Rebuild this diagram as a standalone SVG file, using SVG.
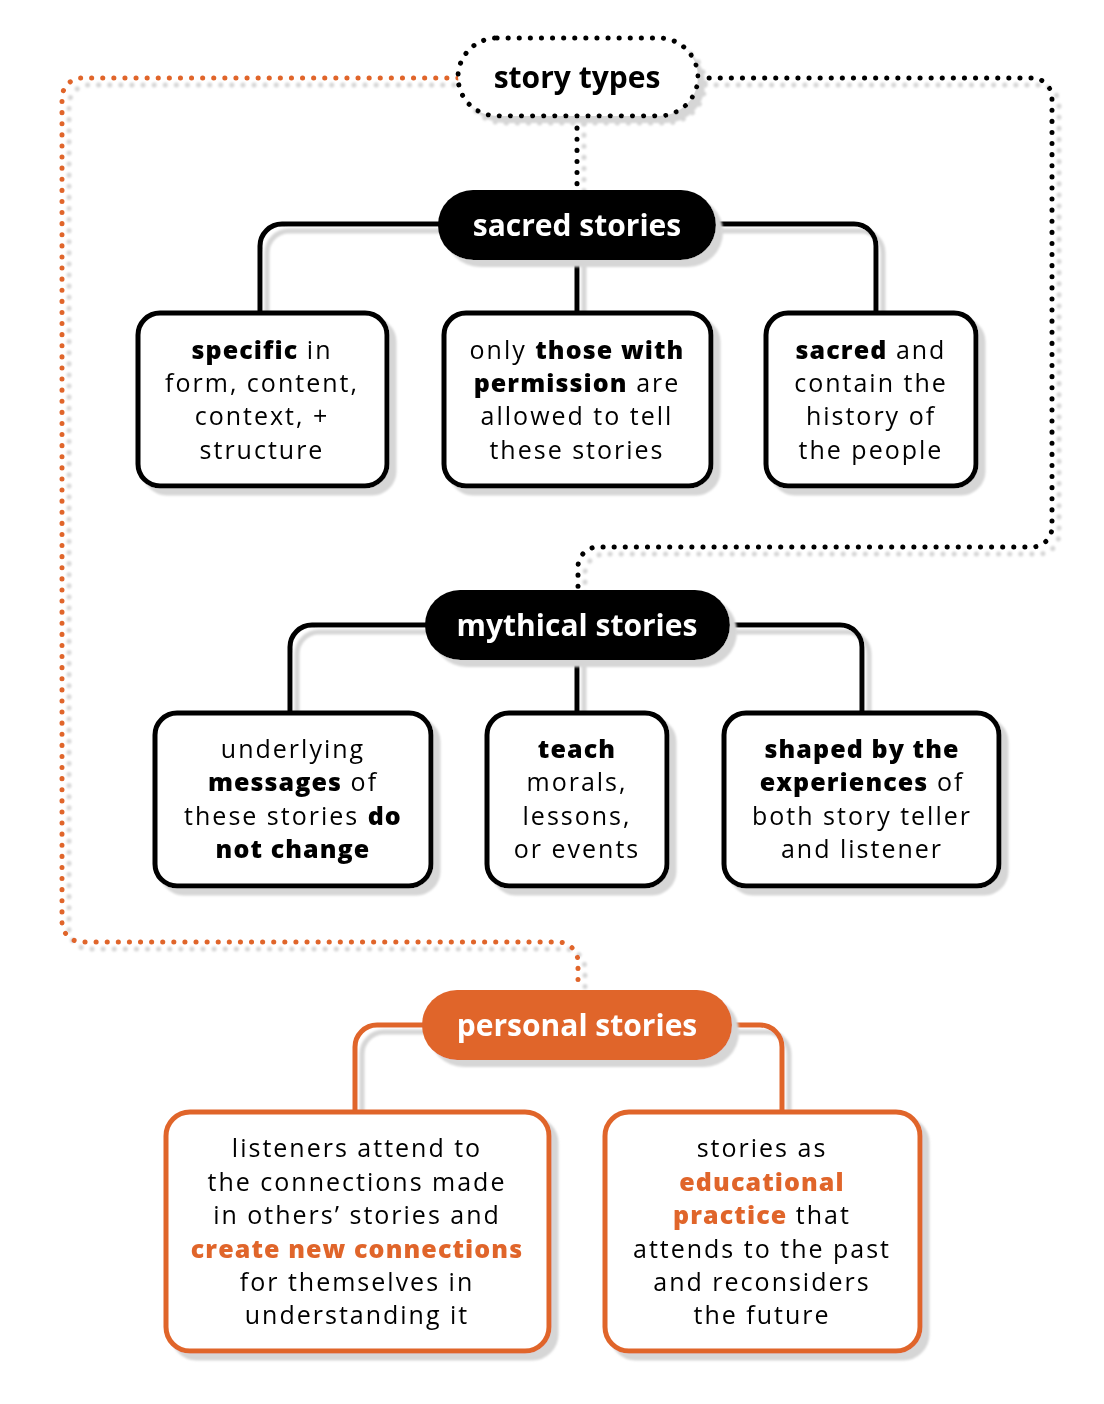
<svg xmlns="http://www.w3.org/2000/svg" width="1104" height="1404" viewBox="0 0 1104 1404">
<defs>
<filter id="sh" x="-10%" y="-10%" width="130%" height="140%">
<feOffset in="SourceAlpha" dx="7" dy="7" result="o"/>
<feGaussianBlur in="o" stdDeviation="1.2" result="b"/>
<feFlood flood-color="#d6d6d6"/>
<feComposite in2="b" operator="in" result="s"/>
<feMerge><feMergeNode in="s"/><feMergeNode in="SourceGraphic"/></feMerge>
</filter>
<style>
.dot{fill:none;stroke-width:5;stroke-linecap:round;stroke-dasharray:0.1 11}
.con{fill:none;stroke-width:5}
.box{fill:#fff;stroke-width:5}
.t{font-family:"Open Sans","DejaVu Sans",sans-serif;font-weight:700;font-size:30px;text-anchor:middle}
.b{font-family:"Open Sans","DejaVu Sans",sans-serif;font-size:25px;letter-spacing:2px;text-anchor:middle;fill:#000}
.bold{font-weight:800;letter-spacing:1.1px}
.or{fill:#E0652B}
</style>
</defs>
<rect width="1104" height="1404" fill="#fff"/>

<g id="connectors" filter="url(#sh)">
<path class="dot" stroke="#E0652B" d="M 458 78 H 82 A 20 20 0 0 0 62 98 V 922 A 20 20 0 0 0 82 942 H 558 A 20 20 0 0 1 578 962 V 990"/>
<path class="dot" stroke="#000" d="M 698 78 H 1032 A 20 20 0 0 1 1052 98 V 527 A 20 20 0 0 1 1032 547 H 598 A 20 20 0 0 0 578 567 V 590"/>
<path class="dot" stroke="#000" d="M 577 117 V 190"/>
<path class="con" stroke="#000" d="M 440 224 H 282 A 22 22 0 0 0 260 246 V 312"/>
<path class="con" stroke="#000" d="M 714 224 H 854 A 22 22 0 0 1 876 246 V 312"/>
<path class="con" stroke="#000" d="M 577 258 V 312"/>
<path class="con" stroke="#000" d="M 427 625 H 312 A 22 22 0 0 0 290 647 V 712"/>
<path class="con" stroke="#000" d="M 728 625 H 840 A 22 22 0 0 1 862 647 V 712"/>
<path class="con" stroke="#000" d="M 577 658 V 712"/>
<path class="con" stroke="#E0652B" d="M 424 1025 H 377 A 22 22 0 0 0 355 1047 V 1111"/>
<path class="con" stroke="#E0652B" d="M 730 1025 H 760 A 22 22 0 0 1 782 1047 V 1111"/>
</g>

<g id="story-types" filter="url(#sh)">
<rect x="458" y="38" width="240" height="78" rx="39" class="dot" stroke="#000" style="fill:#fff"/>
<text class="t" x="577" y="88" fill="#000">story types</text>
</g>

<g id="sacred-stories" filter="url(#sh)">
<rect x="438" y="190" width="278" height="70" rx="35" fill="#000"/>
<text class="t" x="577" y="236" fill="#fff">sacred stories</text>
</g>

<g id="sacred-1" filter="url(#sh)">
<rect class="box" x="138" y="313" width="249" height="173" rx="22" stroke="#000"/>
<text class="b" x="262" y="359"><tspan class="bold">specific</tspan> in</text>
<text class="b" x="262" y="392">form, content,</text>
<text class="b" x="262" y="425">context, +</text>
<text class="b" x="262" y="459">structure</text>
</g>

<g id="sacred-2" filter="url(#sh)">
<rect class="box" x="444" y="313" width="267" height="173" rx="22" stroke="#000"/>
<text class="b" x="577" y="359">only <tspan class="bold">those with</tspan></text>
<text class="b" x="577" y="392"><tspan class="bold">permission</tspan> are</text>
<text class="b" x="577" y="425">allowed to tell</text>
<text class="b" x="577" y="459">these stories</text>
</g>

<g id="sacred-3" filter="url(#sh)">
<rect class="box" x="766" y="313" width="210" height="173" rx="22" stroke="#000"/>
<text class="b" x="871" y="359"><tspan class="bold">sacred</tspan> and</text>
<text class="b" x="871" y="392">contain the</text>
<text class="b" x="871" y="425">history of</text>
<text class="b" x="871" y="459">the people</text>
</g>

<g id="mythical-stories" filter="url(#sh)">
<rect x="425" y="590" width="305" height="70" rx="35" fill="#000"/>
<text class="t" x="577" y="636" fill="#fff">mythical stories</text>
</g>

<g id="mythical-1" filter="url(#sh)">
<rect class="box" x="155" y="713" width="276" height="173" rx="22" stroke="#000"/>
<text class="b" x="293" y="758">underlying</text>
<text class="b" x="293" y="791"><tspan class="bold">messages</tspan> of</text>
<text class="b" x="293" y="825">these stories <tspan class="bold">do</tspan></text>
<text class="b" x="293" y="858"><tspan class="bold">not change</tspan></text>
</g>

<g id="mythical-2" filter="url(#sh)">
<rect class="box" x="487" y="713" width="180" height="173" rx="22" stroke="#000"/>
<text class="b" x="577" y="758"><tspan class="bold">teach</tspan></text>
<text class="b" x="577" y="791">morals,</text>
<text class="b" x="577" y="825">lessons,</text>
<text class="b" x="577" y="858">or events</text>
</g>

<g id="mythical-3" filter="url(#sh)">
<rect class="box" x="724" y="713" width="275" height="173" rx="22" stroke="#000"/>
<text class="b" x="862" y="758"><tspan class="bold">shaped by the</tspan></text>
<text class="b" x="862" y="791"><tspan class="bold">experiences</tspan> of</text>
<text class="b" x="862" y="825">both story teller</text>
<text class="b" x="862" y="858">and listener</text>
</g>

<g id="personal-stories" filter="url(#sh)">
<rect x="422" y="990" width="310" height="70" rx="35" fill="#E0652B"/>
<text class="t" x="577" y="1036" fill="#fff">personal stories</text>
</g>

<g id="personal-1" filter="url(#sh)">
<rect class="box" x="166" y="1112" width="383" height="239" rx="24" stroke="#E0652B"/>
<text class="b" x="357" y="1157">listeners attend to</text>
<text class="b" x="357" y="1191">the connections made</text>
<text class="b" x="357" y="1224">in others’ stories and</text>
<text class="b" x="357" y="1258"><tspan class="bold or">create new connections</tspan></text>
<text class="b" x="357" y="1291">for themselves in</text>
<text class="b" x="357" y="1324">understanding it</text>
</g>

<g id="personal-2" filter="url(#sh)">
<rect class="box" x="605" y="1112" width="315" height="239" rx="24" stroke="#E0652B"/>
<text class="b" x="762" y="1157">stories as</text>
<text class="b" x="762" y="1191"><tspan class="bold or">educational</tspan></text>
<text class="b" x="762" y="1224"><tspan class="bold or">practice</tspan> that</text>
<text class="b" x="762" y="1258">attends to the past</text>
<text class="b" x="762" y="1291">and reconsiders</text>
<text class="b" x="762" y="1324">the future</text>
</g>
</svg>
